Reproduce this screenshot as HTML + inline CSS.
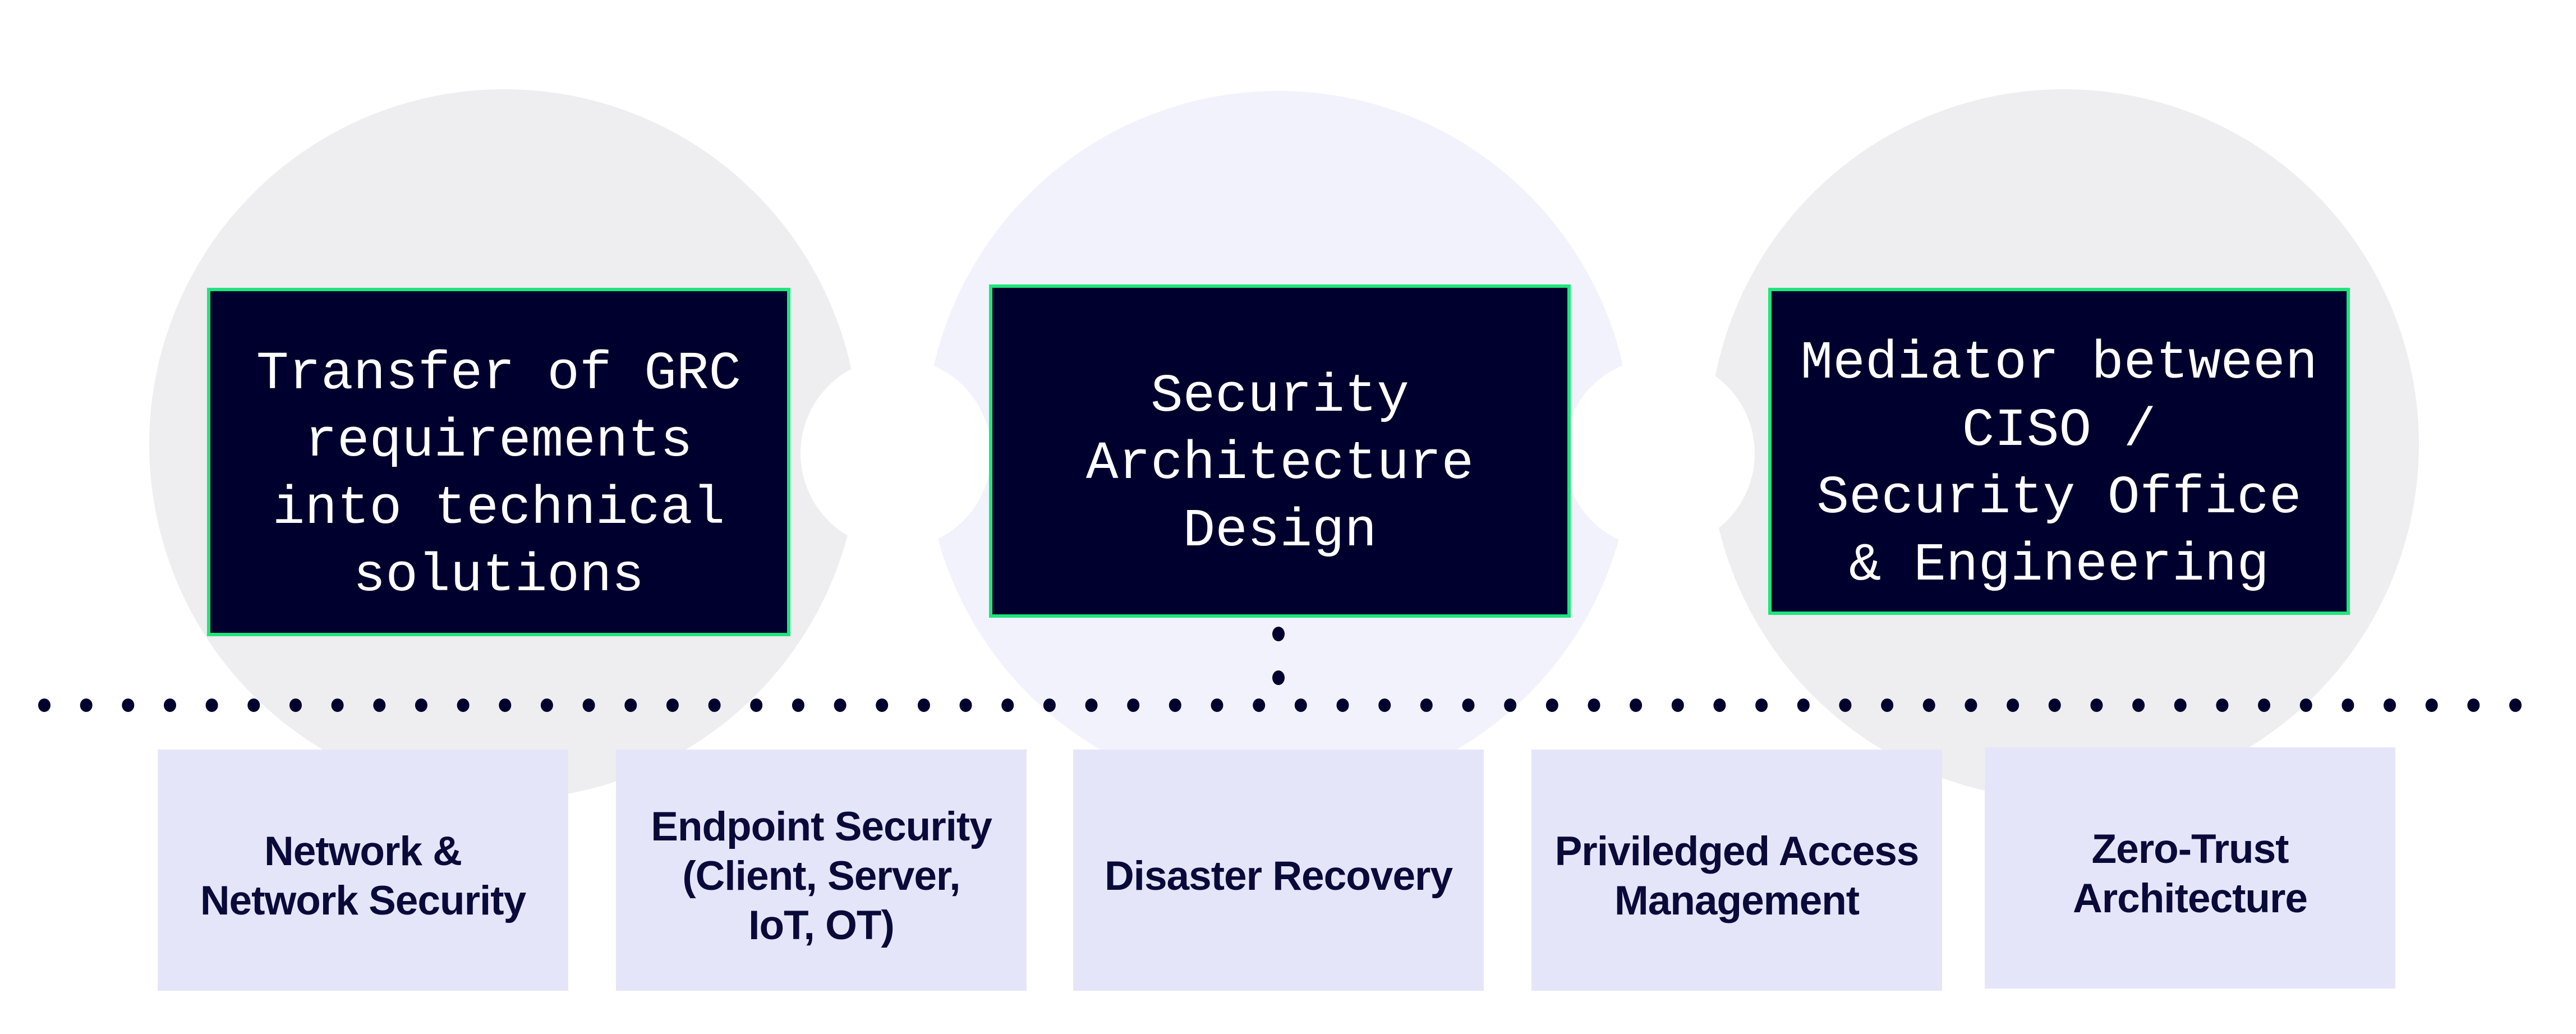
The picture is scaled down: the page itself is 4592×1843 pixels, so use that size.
<!DOCTYPE html>
<html><head><meta charset="utf-8"><style>
html,body{margin:0;padding:0;background:#fff;}
.b{position:absolute;background:#00002e;border:6px solid #1ee67a;box-sizing:border-box;display:flex;align-items:center;justify-content:center;text-align:center;color:#fff;font-family:"Liberation Mono",monospace;font-size:96px;line-height:120px;padding-top:46px;}
.s{position:absolute;background:#e5e5fa;width:732px;height:430px;box-sizing:border-box;padding-top:22px;display:flex;align-items:center;justify-content:center;text-align:center;color:#0a0a3a;font-family:"Liberation Sans",sans-serif;font-weight:bold;font-size:73px;line-height:88px;letter-spacing:-1px;}
</style></head><body>
<div style="position:relative;width:4592px;height:1843px;overflow:hidden;">
<svg width="4592" height="1843" style="position:absolute;left:0;top:0">
<circle cx="899" cy="792" r="633" fill="#eeeef0"/>
<circle cx="3679" cy="792" r="633" fill="#eeeef0"/>
<circle cx="2279" cy="792" r="630" fill="#f2f2fc"/>
<circle cx="1597" cy="808" r="170" fill="#fff"/>
<circle cx="2958" cy="808" r="170" fill="#fff"/>
</svg>
<div class="b" style="left:369px;top:513px;width:1040px;height:621px;">Transfer of GRC<br>requirements<br>into technical<br>solutions</div>
<div class="b" style="left:1763px;top:507px;width:1037px;height:594px;">Security<br>Architecture<br>Design</div>
<div class="b" style="left:3152px;top:513px;width:1037px;height:583px;">Mediator between<br>CISO /<br>Security Office<br>&amp; Engineering</div>
<svg width="4592" height="1843" style="position:absolute;left:0;top:0">
<g fill="#00002e">
<ellipse cx="2279" cy="1130" rx="11" ry="13"/>
<ellipse cx="2279" cy="1208" rx="11" ry="13"/>
</g>
</svg>
<svg width="4592" height="1843" style="position:absolute;left:0;top:0" id="dots"></svg>
<div class="s" style="left:281px;top:1336px;">Network &amp;<br>Network Security</div>
<div class="s" style="left:1098px;top:1336px;">Endpoint Security<br>(Client, Server,<br>IoT, OT)</div>
<div class="s" style="left:1913px;top:1336px;">Disaster Recovery</div>
<div class="s" style="left:2730px;top:1336px;">Priviledged Access<br>Management</div>
<div class="s" style="left:3538px;top:1332px;">Zero-Trust<br>Architecture</div>
</div>
<script>
var s='';for(var i=0;i<60;i++){var x=79+i*(4484-79)/59;s+='<ellipse cx="'+x.toFixed(1)+'" cy="1257" rx="11" ry="12" fill="#00002e"/>';}
document.getElementById('dots').innerHTML=s;
</script>
</body></html>
